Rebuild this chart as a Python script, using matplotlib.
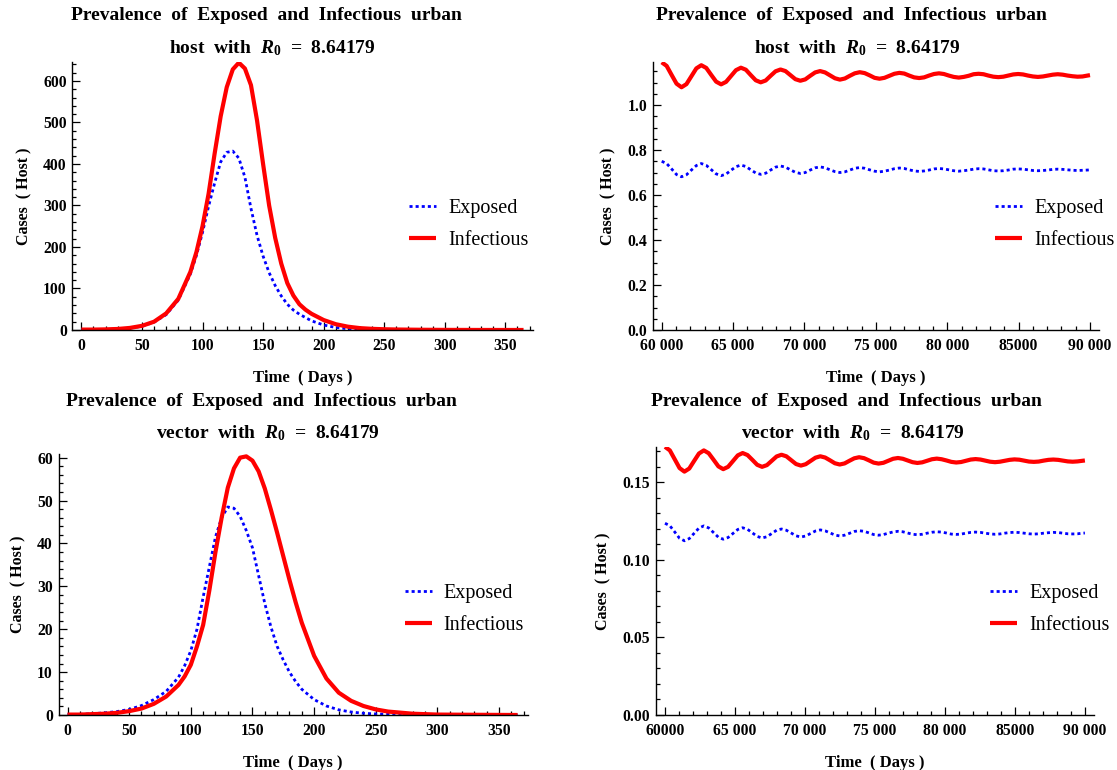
import numpy as np
import matplotlib
matplotlib.use('Agg')
import matplotlib.pyplot as plt
from matplotlib.ticker import MultipleLocator

plt.rcParams['font.family'] = ['Liberation Serif', 'DejaVu Serif']
plt.rcParams['mathtext.fontset'] = 'custom'
plt.rcParams['mathtext.it'] = 'Liberation Serif:italic:bold'
plt.rcParams['mathtext.rm'] = 'Liberation Serif:bold'
plt.rcParams['mathtext.bf'] = 'Liberation Serif:bold'

# ---------------- data: early epidemic (days 0-365) ----------------
days = [0, 10, 20, 30, 40, 50, 60, 70, 80, 90, 95, 100, 105, 110, 115, 120, 125,
        130, 135, 140, 145, 150, 155, 160, 165, 170, 175, 180, 185, 190, 200, 210,
        220, 230, 240, 250, 260, 280, 300, 330, 365]

host_exposed = [0.5, 0.7, 1.2, 2.2, 4.5, 9, 19, 37, 72, 135, 180, 235, 298, 354, 405,
                428, 431, 414, 368, 293, 228, 178, 138, 107, 82, 62, 48, 38, 30, 22,
                12, 6, 3, 1.8, 1, 0.6, 0.3, 0.15, 0.1, 0.05, 0]
host_infectious = [1, 1, 1.5, 2.5, 5, 10, 20, 40, 75, 140, 188, 250, 328, 425, 515,
                   585, 628, 644, 630, 590, 505, 400, 300, 222, 160, 113, 83, 62, 49,
                   39, 24, 14, 8, 4.5, 2.8, 1.8, 1.2, 0.6, 0.3, 0.1, 0.05]
vector_exposed = [0.1, 0.15, 0.3, 0.5, 0.8, 1.3, 2.2, 3.6, 5.5, 8.8, 11.5, 15, 20,
                  27.5, 34.5, 41.5, 46, 48.5, 48.2, 46.3, 43, 39, 32.5, 26, 20.5, 16,
                  12.8, 10, 7.8, 6, 3.6, 2.1, 1.2, 0.7, 0.4, 0.25, 0.15, 0.05, 0, 0, 0]
vector_infectious = [0.1, 0.1, 0.2, 0.3, 0.5, 0.9, 1.5, 2.6, 4.3, 7, 9, 11.7, 16,
                     21, 29, 38, 46, 53, 57.5, 60, 60.3, 59.3, 56.8, 52.8, 47.8, 42.5,
                     37, 31.5, 26.3, 21.5, 13.8, 8.5, 5.2, 3.3, 2.1, 1.3, 0.8, 0.3,
                     0.1, 0.05, 0]

# ---------------- data: long-run (days 60000-90000) ----------------
long_days = np.append(60000 + 346.75 * np.arange(87), 90000)

host_exposed_long = [
    0.750, 0.740, 0.716, 0.691, 0.681, 0.690, 0.711, 0.731,
    0.740, 0.732, 0.713, 0.694, 0.686, 0.693, 0.710, 0.726,
    0.733, 0.727, 0.712, 0.698, 0.692, 0.697, 0.711, 0.724,
    0.729, 0.724, 0.712, 0.701, 0.696, 0.700, 0.711, 0.721,
    0.725, 0.721, 0.712, 0.704, 0.700, 0.703, 0.711, 0.719,
    0.722, 0.719, 0.712, 0.706, 0.703, 0.706, 0.711, 0.717,
    0.720, 0.718, 0.712, 0.707, 0.705, 0.707, 0.711, 0.716,
    0.718, 0.716, 0.712, 0.708, 0.706, 0.708, 0.711, 0.715,
    0.717, 0.716, 0.712, 0.708, 0.707, 0.708, 0.711, 0.715,
    0.716, 0.715, 0.712, 0.709, 0.708, 0.709, 0.711, 0.714,
    0.715, 0.714, 0.712, 0.710, 0.709, 0.710, 0.711, 0.712]
host_infectious_long = [
    1.190, 1.174, 1.134, 1.095, 1.079, 1.093, 1.128, 1.163,
    1.177, 1.165, 1.134, 1.104, 1.092, 1.103, 1.129, 1.155,
    1.166, 1.157, 1.133, 1.110, 1.101, 1.109, 1.130, 1.150,
    1.158, 1.151, 1.133, 1.115, 1.108, 1.114, 1.130, 1.145,
    1.151, 1.145, 1.132, 1.119, 1.113, 1.118, 1.130, 1.141,
    1.146, 1.142, 1.132, 1.121, 1.117, 1.121, 1.130, 1.139,
    1.143, 1.140, 1.131, 1.123, 1.120, 1.123, 1.131, 1.138,
    1.141, 1.138, 1.131, 1.125, 1.122, 1.125, 1.130, 1.137,
    1.139, 1.137, 1.131, 1.126, 1.124, 1.126, 1.131, 1.136,
    1.138, 1.136, 1.131, 1.127, 1.125, 1.127, 1.131, 1.135,
    1.137, 1.135, 1.131, 1.128, 1.126, 1.127, 1.131, 1.133]
vector_exposed_long = [
    0.1237, 0.1221, 0.1181, 0.1140, 0.1124, 0.1138, 0.1172, 0.1206,
    0.1220, 0.1207, 0.1177, 0.1147, 0.1134, 0.1145, 0.1171, 0.1197,
    0.1208, 0.1198, 0.1175, 0.1152, 0.1142, 0.1150, 0.1171, 0.1192,
    0.1200, 0.1192, 0.1174, 0.1156, 0.1148, 0.1155, 0.1171, 0.1187,
    0.1194, 0.1188, 0.1175, 0.1161, 0.1155, 0.1160, 0.1172, 0.1184,
    0.1189, 0.1185, 0.1175, 0.1164, 0.1160, 0.1164, 0.1173, 0.1181,
    0.1185, 0.1182, 0.1174, 0.1166, 0.1163, 0.1166, 0.1173, 0.1179,
    0.1182, 0.1180, 0.1174, 0.1167, 0.1165, 0.1167, 0.1173, 0.1178,
    0.1180, 0.1178, 0.1173, 0.1168, 0.1166, 0.1168, 0.1173, 0.1177,
    0.1179, 0.1177, 0.1173, 0.1169, 0.1167, 0.1169, 0.1173, 0.1176,
    0.1178, 0.1177, 0.1173, 0.1169, 0.1168, 0.1169, 0.1173, 0.1174]
vector_infectious_long = [
    0.1730, 0.1707, 0.1650, 0.1593, 0.1570, 0.1590, 0.1639, 0.1687,
    0.1707, 0.1689, 0.1647, 0.1604, 0.1586, 0.1601, 0.1638, 0.1675,
    0.1690, 0.1677, 0.1646, 0.1614, 0.1601, 0.1612, 0.1640, 0.1668,
    0.1679, 0.1669, 0.1644, 0.1619, 0.1609, 0.1618, 0.1639, 0.1660,
    0.1669, 0.1661, 0.1643, 0.1624, 0.1616, 0.1623, 0.1640, 0.1656,
    0.1663, 0.1657, 0.1643, 0.1628, 0.1622, 0.1627, 0.1640, 0.1653,
    0.1658, 0.1653, 0.1642, 0.1631, 0.1626, 0.1630, 0.1640, 0.1650,
    0.1654, 0.1650, 0.1642, 0.1633, 0.1629, 0.1632, 0.1640, 0.1648,
    0.1651, 0.1648, 0.1641, 0.1634, 0.1631, 0.1634, 0.1640, 0.1646,
    0.1649, 0.1647, 0.1641, 0.1635, 0.1633, 0.1635, 0.1641, 0.1646,
    0.1648, 0.1646, 0.1641, 0.1636, 0.1634, 0.1636, 0.1640, 0.1642]

# ---------------- ticks & labels ----------------
short_xticks = [0, 50, 100, 150, 200, 250, 300, 350]
short_xticklabels = ['0', '50', '100', '150', '200', '250', '300', '350']
long_xticks = [60000, 65000, 70000, 75000, 80000, 85000, 90000]
long_xticklabels_host = ['60 000', '65 000', '70 000', '75 000', '80 000', '85000', '90 000']
long_xticklabels_vec = ['60000', '65 000', '70 000', '75 000', '80 000', '85000', '90 000']
host_yticks = [0, 100, 200, 300, 400, 500, 600]
host_yticklabels = ['0', '100', '200', '300', '400', '500', '600']
vec_yticks = [0, 10, 20, 30, 40, 50, 60]
vec_yticklabels = ['0', '10', '20', '30', '40', '50', '60']
host_long_yticks = [0.0, 0.2, 0.4, 0.6, 0.8, 1.0]
host_long_yticklabels = ['0.0', '0.2', '0.4', '0.6', '0.8', '1.0']
vec_long_yticks = [0.0, 0.05, 0.10, 0.15]
vec_long_yticklabels = ['0.00', '0.05', '0.10', '0.15']

title_line1 = 'Prevalence  of  Exposed  and  Infectious  urban'
title_host = r'host  with  $R_0$  =  8.64179'
title_vec = r'vector  with  $R_0$  =  8.64179'
legend_labels = ['Exposed', 'Infectious']

# ---------------- figure ----------------
W, H = 1117, 770
fig = plt.figure(figsize=(W / 100, H / 100), dpi=100)


def add_axes_px(l, t, r, b):
    return fig.add_axes([l / W, 1 - b / H, (r - l) / W, (b - t) / H])


TICK_FS = 11.3
XLABEL_FS = 12
YLABEL_FS = 11.5
TITLE_FS = 14
LEG_FS = 14.5


def style(ax, xlim, ylim, xt, xtl, xminor, yt, ytl, yminor):
    for s in ['top', 'right']:
        ax.spines[s].set_visible(False)
    for s in ['left', 'bottom']:
        ax.spines[s].set_linewidth(1.0)
    ax.set_xlim(*xlim)
    ax.set_ylim(*ylim)
    ax.set_xticks(xt)
    ax.set_xticklabels(xtl, fontweight='bold', fontsize=TICK_FS)
    ax.set_yticks(yt)
    ax.set_yticklabels(ytl, fontweight='bold', fontsize=TICK_FS)
    ax.xaxis.set_minor_locator(MultipleLocator(xminor))
    ax.yaxis.set_minor_locator(MultipleLocator(yminor))
    ax.tick_params(which='both', direction='in', width=0.9, color='black')
    ax.tick_params(which='major', length=5.5)
    ax.tick_params(which='minor', length=3)
    ax.tick_params(axis='x', which='major', pad=6)
    ax.tick_params(axis='y', which='major', pad=4)
    ax.set_xlabel('Time  ( Days )', fontweight='bold', fontsize=XLABEL_FS, labelpad=11)
    ax.set_ylabel('Cases  ( Host )', fontweight='bold', fontsize=YLABEL_FS, labelpad=8)
    ax.patch.set_alpha(0)


def draw(ax, x, e, i, leg_left, leg_center):
    le, = ax.plot(x, e, color=(0, 0, 1), lw=2.0, linestyle=(0, (1.1, 1.1)),
                  solid_joinstyle='round')
    li, = ax.plot(x, i, color=(1, 0, 0), lw=3.0, solid_joinstyle='round',
                  solid_capstyle='butt')
    ax.legend([le, li], legend_labels, loc='center left',
              bbox_to_anchor=(leg_left / W, 1 - leg_center / H),
              bbox_transform=fig.transFigure, frameon=False,
              prop={'size': LEG_FS, 'family': 'Liberation Serif'},
              handlelength=1.35, handletextpad=0.6, labelspacing=0.68,
              borderpad=0, borderaxespad=0)


def titles(cx1, cx2, y1, y2, line2):
    fig.text(cx1 / W, 1 - y1 / H, title_line1, ha='center', va='center',
             fontsize=TITLE_FS, fontweight='bold')
    fig.text(cx2 / W, 1 - y2 / H, line2, ha='center', va='center',
             fontsize=TITLE_FS, fontweight='bold')


# top-left
ax1 = add_axes_px(72.4, 62.3, 533, 330)
draw(ax1, days, host_exposed, host_infectious, 409, 224.5)
style(ax1, (-7.4, 372.8), (0, 645), short_xticks, short_xticklabels, 10,
      host_yticks, host_yticklabels, 20)
titles(266, 272.5, 16, 48, title_host)

# top-right
ax2 = add_axes_px(652.7, 62.3, 1099, 330)
draw(ax2, long_days, host_exposed_long, host_infectious_long, 995, 224.5)
style(ax2, (59370, 90630), (0, 1.19), long_xticks, long_xticklabels_host, 1000,
      host_long_yticks, host_long_yticklabels, 0.05)
titles(851.5, 857.6, 16, 48, title_host)

# bottom-left
ax3 = add_axes_px(58.5, 454, 527.7, 715)
draw(ax3, days, vector_exposed, vector_infectious, 404.5, 609.5)
style(ax3, (-7.3, 373.2), (0, 60.85), short_xticks, short_xticklabels, 10,
      vec_yticks, vec_yticklabels, 2)
titles(261, 268, 401, 433.3, title_vec)

# bottom-right
ax4 = add_axes_px(655.8, 447.3, 1093.8, 715)
draw(ax4, long_days, vector_exposed_long, vector_infectious_long, 990, 609.5)
style(ax4, (59343, 90636), (0, 0.1727), long_xticks, long_xticklabels_vec, 1000,
      vec_long_yticks, vec_long_yticklabels, 0.01)
titles(846.2, 853.1, 401, 433.3, title_vec)

fig.savefig('out.png', dpi=100)
